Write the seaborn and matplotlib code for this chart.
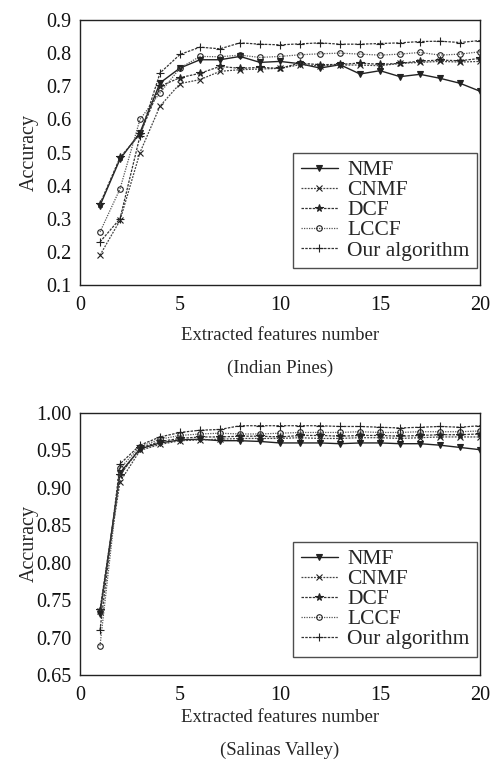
import numpy as np
import pandas as pd
import matplotlib
matplotlib.use("Agg")
import matplotlib.pyplot as plt
import seaborn as sns

features = list(range(1, 21))
methods = ["NMF", "CNMF", "DCF", "LCCF", "Our algorithm"]

# Indian Pines
ip_nmf = [0.34, 0.48, 0.56, 0.71, 0.755, 0.78, 0.78, 0.79, 0.772, 0.775, 0.768, 0.755, 0.765, 0.737, 0.747, 0.729, 0.736, 0.724, 0.709, 0.685]
ip_cnmf = [0.19, 0.295, 0.50, 0.64, 0.708, 0.72, 0.745, 0.75, 0.752, 0.754, 0.765, 0.762, 0.764, 0.764, 0.762, 0.769, 0.772, 0.775, 0.773, 0.775]
ip_dcf = [0.345, 0.485, 0.555, 0.70, 0.726, 0.739, 0.76, 0.754, 0.757, 0.754, 0.77, 0.765, 0.766, 0.77, 0.766, 0.769, 0.776, 0.779, 0.777, 0.784]
ip_lccf = [0.26, 0.39, 0.60, 0.68, 0.755, 0.79, 0.789, 0.794, 0.787, 0.79, 0.795, 0.798, 0.80, 0.797, 0.794, 0.797, 0.802, 0.794, 0.797, 0.804]
ip_ours = [0.23, 0.30, 0.55, 0.74, 0.796, 0.818, 0.813, 0.831, 0.827, 0.825, 0.828, 0.831, 0.827, 0.827, 0.829, 0.831, 0.835, 0.836, 0.832, 0.838]

# Salinas Valley
sv_nmf = [0.732, 0.92, 0.952, 0.96, 0.964, 0.965, 0.963, 0.963, 0.962, 0.96, 0.96, 0.96, 0.959, 0.96, 0.96, 0.959, 0.959, 0.957, 0.954, 0.951]
sv_cnmf = [0.735, 0.908, 0.950, 0.958, 0.963, 0.964, 0.965, 0.966, 0.966, 0.966, 0.967, 0.966, 0.966, 0.967, 0.967, 0.966, 0.967, 0.968, 0.968, 0.968]
sv_dcf = [0.737, 0.917, 0.953, 0.962, 0.966, 0.968, 0.968, 0.969, 0.969, 0.968, 0.970, 0.970, 0.969, 0.970, 0.970, 0.969, 0.970, 0.971, 0.971, 0.972]
sv_lccf = [0.689, 0.926, 0.955, 0.965, 0.97, 0.972, 0.973, 0.972, 0.972, 0.973, 0.974, 0.974, 0.974, 0.975, 0.974, 0.974, 0.975, 0.975, 0.975, 0.976]
sv_ours = [0.71, 0.932, 0.957, 0.968, 0.974, 0.977, 0.978, 0.983, 0.983, 0.983, 0.983, 0.983, 0.982, 0.982, 0.981, 0.980, 0.981, 0.982, 0.981, 0.983]

sns.set_style("white")
plt.rcParams['font.family'] = ['Liberation Serif', 'DejaVu Serif']

styles = {
    "NMF": dict(marker="v", linestyle="-", color="#222222", lw=1.0, ms=4.5),
    "CNMF": dict(marker="x", linestyle=(0, (1.5, 1)), color="#444444", lw=0.9, ms=4),
    "DCF": dict(marker="*", linestyle=(0, (2, 1)), color="#333333", lw=0.9, ms=5.5),
    "LCCF": dict(marker="o", linestyle=(0, (1, 1)), color="#555555", lw=0.9, ms=4),
    "Our algorithm": dict(marker="+", linestyle=(0, (2, 1)), color="#333333", lw=0.9, ms=6),
}

fig = plt.figure(figsize=(4.92, 7.64), dpi=100)
W, H = 492, 764
ax1 = fig.add_axes([80 / W, 1 - 285 / H, 400 / W, 265 / H])
ax2 = fig.add_axes([80 / W, 1 - 675 / H, 400 / W, 262 / H])

def draw(ax, series, ylim, yticks, yfmt, legend_y, xlab_y, caption_y, caption):
    for name, vals in zip(methods, series):
        st = dict(styles[name])
        mfc = "none" if st["marker"] == "o" else st["color"]
        sns.lineplot(x=features, y=vals, ax=ax, label=name,
                     marker=st["marker"], linestyle=st["linestyle"],
                     color=st["color"], linewidth=st["lw"],
                     markersize=st["ms"], markeredgewidth=0.8,
                     mec="#222222", mfc=mfc)
    ax.set_xlim(0, 20)
    ax.set_ylim(*ylim)
    ax.set_xticks([0, 5, 10, 15, 20])
    ax.set_yticks(yticks)
    ax.set_yticklabels([yfmt.format(v) for v in yticks])
    ax.tick_params(direction="in", length=4, width=0.8, labelsize=14.5,
                   colors="#111111")
    ax.tick_params(axis="x", pad=8)
    ax.tick_params(axis="y", pad=6)
    for s in ax.spines.values():
        s.set_color("#222222")
        s.set_linewidth(1.0)
    ax.set_xlabel("Extracted features number", fontsize=13.5)
    ax.set_ylabel("Accuracy", fontsize=14.5)
    ax.xaxis.set_label_coords(0.5, xlab_y)
    ax.yaxis.set_label_coords(-0.128, 0.5)
    ax.xaxis.label.set_va("center")
    ax.yaxis.label.set_va("center")
    leg = ax.legend(loc="lower right", bbox_to_anchor=(0.993, legend_y),
                    frameon=True, fancybox=False, fontsize=15.5,
                    handlelength=1.7, handletextpad=0.45, borderpad=0.35,
                    labelspacing=0.0, borderaxespad=0)
    leg.get_frame().set_edgecolor("#222222")
    leg.get_frame().set_linewidth(1.0)
    ax.text(0.5, caption_y, caption, transform=ax.transAxes,
            ha="center", va="center", fontsize=13.5)

draw(ax1, [ip_nmf, ip_cnmf, ip_dcf, ip_lccf, ip_ours], (0.1, 0.9),
     [0.1, 0.2, 0.3, 0.4, 0.5, 0.6, 0.7, 0.8, 0.9], "{:.1f}", 0.064,
     -(335 - 285) / 265, -(368 - 285) / 265, "(Indian Pines)")
draw(ax2, [sv_nmf, sv_cnmf, sv_dcf, sv_lccf, sv_ours], (0.65, 1.0),
     [0.65, 0.70, 0.75, 0.80, 0.85, 0.90, 0.95, 1.00], "{:.2f}", 0.069,
     -(717 - 675) / 262, -(750 - 675) / 262, "(Salinas Valley)")

fig.savefig("out.png", dpi=100)
